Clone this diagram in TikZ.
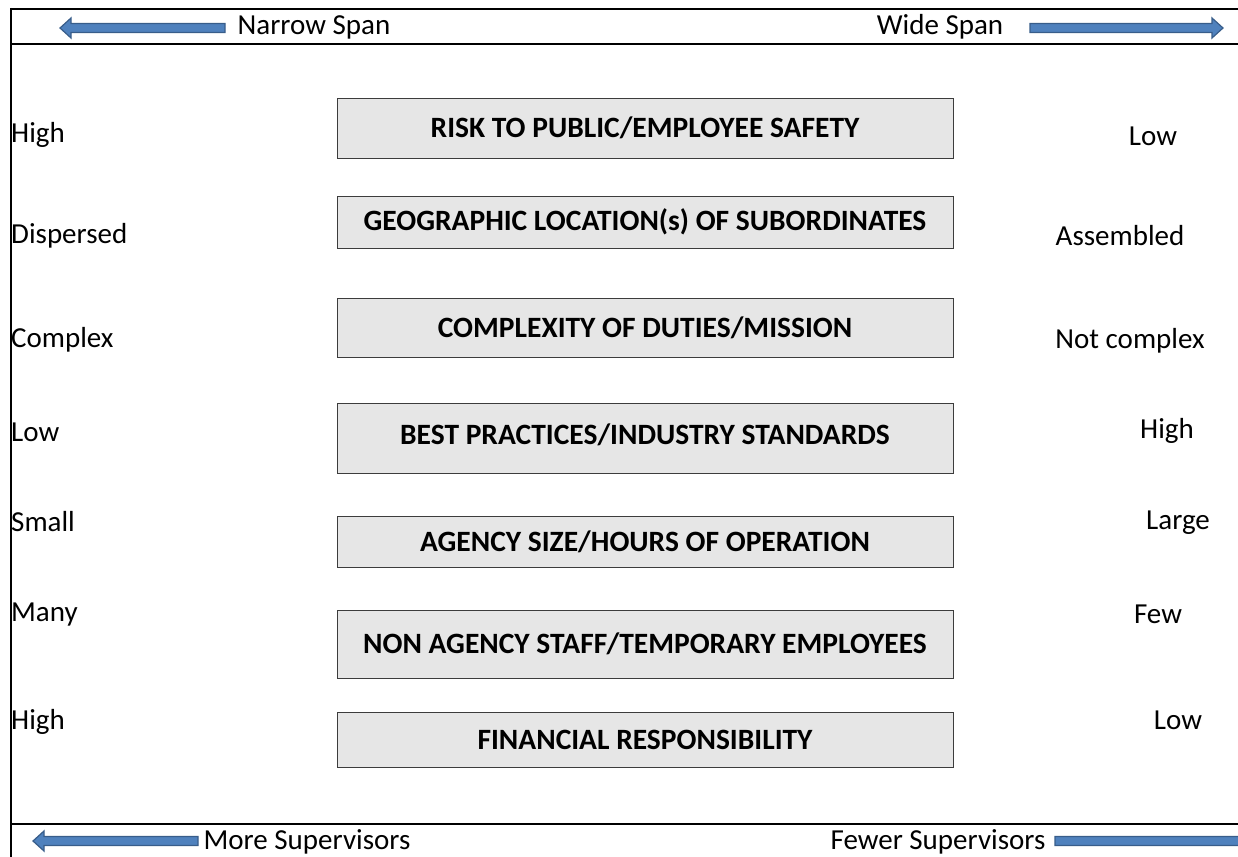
\documentclass[tikz,border=0pt]{standalone}
\usepackage{fontspec}
\setmainfont{Carlito}
\usepackage{tikz}
\usetikzlibrary{positioning}
\definecolor{arrowFill}{RGB}{79,129,189}
\definecolor{arrowEdge}{RGB}{56,93,138}
\definecolor{boxFill}{RGB}{230,230,230}
\definecolor{boxEdge}{RGB}{60,60,60}
\tikzset{
  frameline/.style={line width=2.4pt, black},
  spanarrow/.style={fill=arrowFill, draw=arrowEdge, line width=1.2pt, line join=miter},
  factorbox/.style={draw=boxEdge, fill=boxFill, line width=0.9pt, minimum width=616pt, inner sep=0pt,
    font=\fontsize{29.5}{34}\selectfont\bfseries},
  sidelabel/.style={inner sep=0pt, font=\fontsize{29}{34}\selectfont},
}
% block arrow: tip x, tail x, y
\newcommand{\spanarrowdraw}[3]{%
  \pgfmathsetmacro\hx{#1+11*sign(#2-#1)}%
  \draw[spanarrow] (#1,#3) -- (\hx,#3-10) -- (\hx,#3-4.5) -- (#2,#3-4.5)
    -- (#2,#3+4.5) -- (\hx,#3+4.5) -- (\hx,#3+10) -- cycle;}

\begin{document}
\begin{tikzpicture}[x=1pt, y=-1pt]
      \useasboundingbox (0,0) rectangle (1238,856);
      \clip (0,0) rectangle (1238,856);
      % Frame
      \draw[frameline] (11,9) -- (1240,9);
      \draw[frameline] (11,44) -- (1240,44);
      \draw[frameline] (11,824) -- (1240,824);
      \draw[frameline] (11,8) -- (11,860);
      % Top row: span
      \spanarrowdraw{60}{225}{28}
      \spanarrowdraw{1223}{1030}{28}
      \node[sidelabel] (narrow) at (314,27) {Narrow Span};
      \node[sidelabel] (wide) at (940,27) {Wide Span};
      % Bottom row: supervisors
      \spanarrowdraw{33}{198}{841}
      \spanarrowdraw{1252}{1055}{841}
      \node[sidelabel] (more) at (307,842) {More Supervisors};
      \node[sidelabel] (fewer) at (938,842) {Fewer Supervisors};
      % Factor boxes
      \node[factorbox, minimum height=60pt] (risk) at (645,128) {RISK TO PUBLIC/EMPLOYEE SAFETY};
      \node[factorbox, minimum height=52pt] (geo) at (645,222) {GEOGRAPHIC LOCATION(s) OF SUBORDINATES};
      \node[factorbox, minimum height=59pt] (duties) at (645,327.5) {COMPLEXITY OF DUTIES/MISSION};
      \node[factorbox, minimum height=70pt, text depth=8pt] (best) at (645,438) {BEST PRACTICES/INDUSTRY STANDARDS};
      \node[factorbox, minimum height=51pt] (size) at (645,541.5) {AGENCY SIZE/HOURS OF OPERATION};
      \node[factorbox, minimum height=68pt] (staff) at (645,644) {NON AGENCY STAFF/TEMPORARY EMPLOYEES};
      \node[factorbox, minimum height=55pt] (money) at (645,739.5) {FINANCIAL RESPONSIBILITY};
      % Left side: narrow span end
      \node[sidelabel, anchor=west] (riskL) at (11,135) {High};
      \node[sidelabel, anchor=west] (geoL) at (11,236) {Dispersed};
      \node[sidelabel, anchor=west] (dutiesL) at (11,340) {Complex};
      \node[sidelabel, anchor=west] (bestL) at (11,432) {Low};
      \node[sidelabel, anchor=west] (sizeL) at (11,522) {Small};
      \node[sidelabel, anchor=west] (staffL) at (11,615) {Many};
      \node[sidelabel, anchor=west] (moneyL) at (11,722) {High};
      % Right side: wide span end
      \node[sidelabel] (riskR) at (1153,136) {Low};
      \node[sidelabel] (geoR) at (1120,236) {Assembled};
      \node[sidelabel] (dutiesR) at (1130,341) {Not complex};
      \node[sidelabel] (bestR) at (1167,431) {High};
      \node[sidelabel] (sizeR) at (1178,523) {Large};
      \node[sidelabel] (staffR) at (1158,614) {Few};
      \node[sidelabel] (moneyR) at (1178,720) {Low};
\end{tikzpicture}
\end{document}
